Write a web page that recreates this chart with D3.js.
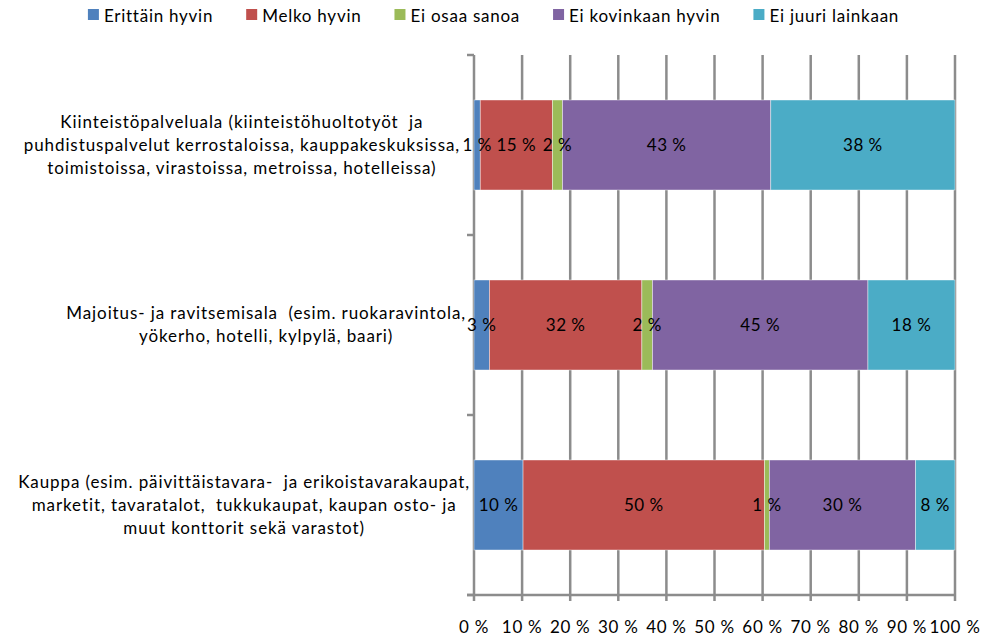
<!DOCTYPE html>
<html>
<head>
<meta charset="utf-8">
<script src="https://cdn.jsdelivr.net/npm/d3@7"></script>
<style>
  body { margin: 0; background: #fff; }
  text { font-family: Lato, "Open Sans", sans-serif; fill: #000; }
</style>
</head>
<body>
<script>
const width = 992, height = 636;

// categories (top to bottom), each a list of lines
const categories = [
  ["Kiinteistöpalveluala (kiinteistöhuoltotyöt  ja", "puhdistuspalvelut kerrostaloissa, kauppakeskuksissa,", "toimistoissa, virastoissa, metroissa, hotelleissa)"],
  ["Majoitus- ja ravitsemisala  (esim. ruokaravintola,", "yökerho, hotelli, kylpylä, baari)"],
  ["Kauppa (esim. päivittäistavara-  ja erikoistavarakaupat,", "marketit, tavaratalot,  tukkukaupat, kaupan osto- ja", "muut konttorit sekä varastot)"]
];
const seriesNames = ["Erittäin hyvin", "Melko hyvin", "Ei osaa sanoa", "Ei kovinkaan hyvin", "Ei juuri lainkaan"];
const colors = ["#4f81bd", "#c0504d", "#9bbb59", "#8064a2", "#4bacc6"];

// percentages per category, in series order
const erittain = [1.3, 3.2, 10.2];
const melko = [15.0, 31.7, 50.2];
const eiOsaa = [2.1, 2.2, 1.0];
const eiKovin = [43.3, 44.8, 30.4];
const eiJuuri = [38.3, 18.1, 8.2];
const xTicks = [0, 10, 20, 30, 40, 50, 60, 70, 80, 90, 100];

const series = [erittain, melko, eiOsaa, eiKovin, eiJuuri];

const svg = d3.select("body").append("svg")
  .attr("width", width)
  .attr("height", height);

const x = d3.scaleLinear().domain([0, 100]).range([474, 955]);
const y = d3.scaleBand().domain(d3.range(categories.length)).range([55, 595])
  .paddingInner(0.5).paddingOuter(0.25);

const gridColor = "#8c8c8c";

// gridlines
svg.append("g").selectAll("line")
  .data(xTicks)
  .enter().append("line")
  .attr("x1", d => x(d)).attr("x2", d => x(d))
  .attr("y1", 55).attr("y2", 601)
  .attr("stroke", gridColor).attr("stroke-width", 2.5);

// y axis category ticks
const yTicks = d3.range(categories.length + 1).map(i => 55 + i * y.step());
svg.append("g").selectAll("line")
  .data(yTicks)
  .enter().append("line")
  .attr("x1", x(0) - 7).attr("x2", x(0))
  .attr("y1", d => d).attr("y2", d => d)
  .attr("stroke", gridColor).attr("stroke-width", 2.5);

// x axis line
svg.append("line")
  .attr("x1", x(0) - 7).attr("x2", x(100))
  .attr("y1", 595).attr("y2", 595)
  .attr("stroke", gridColor).attr("stroke-width", 2.5);

// stacked data
const rows = categories.map((c, i) => {
  let acc = 0;
  return series.map((s, k) => {
    const seg = { cat: i, k: k, v: s[i], x0: acc, x1: acc + s[i] };
    acc += s[i];
    return seg;
  });
});

const bars = svg.append("g");
rows.forEach(row => {
  bars.selectAll(null)
    .data(row)
    .enter().append("rect")
    .attr("x", d => x(d.x0))
    .attr("y", d => y(d.cat))
    .attr("width", d => x(d.x1) - x(d.x0))
    .attr("height", y.bandwidth())
    .attr("fill", d => colors[d.k])
    .attr("stroke", "#ffffff")
    .attr("stroke-opacity", 0.6)
    .attr("stroke-width", 0.7);
});

// data labels
const labels = svg.append("g");
rows.forEach(row => {
  labels.selectAll(null)
    .data(row)
    .enter().append("text")
    .attr("x", d => x((d.x0 + d.x1) / 2))
    .attr("y", d => y(d.cat) + y.bandwidth() / 2)
    .attr("dy", "0.35em")
    .attr("text-anchor", "middle")
    .style("font-size", "17px")
    .style("letter-spacing", "0.5px")
    .text(d => Math.round(d.v) + " %");
});

// x tick labels
svg.append("g").selectAll("text")
  .data(xTicks)
  .enter().append("text")
  .attr("x", d => x(d))
  .attr("y", 627)
  .attr("dy", "0.35em")
  .attr("text-anchor", "middle")
  .style("font-size", "17px")
  .style("letter-spacing", "0.7px")
  .text(d => d + " %");

// category labels, centred block right-aligned to the axis
const lineH = 23;
const labelPad = [14, 8, 4];
categories.forEach((lines, i) => {
  const g = svg.append("g");
  const cy = y(i) + y.bandwidth() / 2;
  const t = g.selectAll("text")
    .data(lines)
    .enter().append("text")
    .attr("y", (d, j) => cy + (j - (lines.length - 1) / 2) * lineH)
    .attr("dy", "0.35em")
    .attr("text-anchor", "middle")
    .style("font-size", "17px")
    .style("letter-spacing", "0.9px")
    .style("white-space", "pre")
    .text(d => d);
  let maxW = 0;
  t.each(function () { maxW = Math.max(maxW, this.getComputedTextLength()); });
  t.attr("x", x(0) - labelPad[i] - maxW / 2);
});

// legend
const legend = svg.append("g");
const items = legend.selectAll("g")
  .data(seriesNames)
  .enter().append("g");
items.append("rect")
  .attr("width", 11).attr("height", 11)
  .attr("y", 9)
  .attr("fill", (d, i) => colors[i]);
items.append("text")
  .attr("x", 16)
  .attr("y", 16)
  .attr("dy", "0.35em")
  .style("font-size", "17px")
  .style("letter-spacing", "0.75px")
  .text(d => d);
let widths = [];
items.each(function () { widths.push(this.getBBox().width); });
const gap = 33;
const total = d3.sum(widths) + gap * (widths.length - 1);
let cx = 493.5 - total / 2;
items.attr("transform", (d, i) => {
  const tx = cx;
  cx += widths[i] + gap;
  return "translate(" + tx + ",0)";
});
</script>
</body>
</html>
